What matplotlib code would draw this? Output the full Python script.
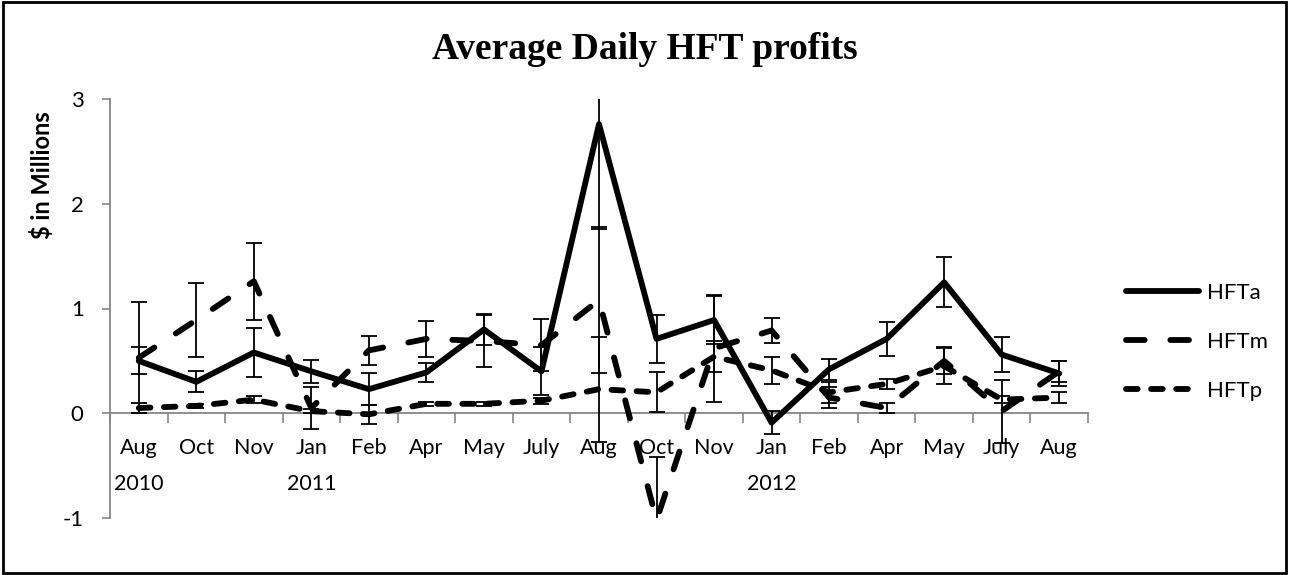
import matplotlib
matplotlib.use("Agg")
import matplotlib.pyplot as plt
from matplotlib.patches import Rectangle
import numpy as np

# data ($ millions)
months = ['Aug', 'Oct', 'Nov', 'Jan', 'Feb', 'Apr', 'May', 'July',
          'Aug', 'Oct', 'Nov', 'Jan', 'Feb', 'Apr', 'May', 'July', 'Aug']
years = ['2010', '', '', '2011', '', '', '', '',
         '', '', '', '2012', '', '', '', '', '']

hfta = [0.50, 0.30, 0.58, 0.40, 0.23, 0.39, 0.80, 0.40, 2.76,
        0.71, 0.89, -0.09, 0.42, 0.71, 1.25, 0.56, 0.38]
hfta_err = [0.13, 0.10, 0.23, 0.11, 0.15, 0.09, 0.15, 0.23, 1.00,
            0.23, 0.23, 0.11, 0.10, 0.16, 0.24, 0.17, 0.12]

hftm = [0.53, 0.89, 1.26, 0.05, 0.60, 0.71, 0.69, 0.65, 1.08,
        -1.02, 0.62, 0.79, 0.15, 0.05, 0.50, 0.02, 0.40]
hftm_err = [0.53, 0.35, 0.37, 0.20, 0.14, 0.17, 0.25, 0.25, 0.70,
            0.60, 0.51, 0.12, 0.10, 0.05, 0.13, 0.30, 0.10]

hftp = [0.05, 0.07, 0.13, 0.02, -0.01, 0.09, 0.09, 0.12, 0.23,
        0.20, 0.54, 0.41, 0.20, 0.28, 0.45, 0.13, 0.15]
hftp_err = [0.05, 0.02, 0.03, 0.02, 0.09, 0.02, 0.02, 0.03, 0.50,
            0.19, 0.15, 0.13, 0.10, 0.05, 0.17, 0.03, 0.05]

grey = '#868686'
plt.rcParams['font.family'] = ['Lato', 'DejaVu Sans']

fig = plt.figure(figsize=(12.89, 5.75), dpi=100)
ax = fig.add_axes([110 / 1289, 57 / 575, 978 / 1289, 419 / 575])

x = np.arange(len(months))
lw = 4.2
ax.plot(x, hfta, color='black', lw=lw, solid_capstyle='round', zorder=3, label='HFTa')
ax.plot(x, hftm, color='black', lw=lw, linestyle=(0, (3.2, 4.4)),
        dash_capstyle='round', zorder=3, label='HFTm')
ax.plot(x, hftp, color='black', lw=lw, linestyle=(0, (2.0, 2.3)),
        dash_capstyle='round', zorder=3, label='HFTp')

for vals, errs in [(hfta, hfta_err), (hftm, hftm_err), (hftp, hftp_err)]:
    ax.errorbar(x, vals, yerr=errs, fmt='none', ecolor='black',
                elinewidth=1.3, capsize=5.5, capthick=1.3, zorder=4)

ax.set_xlim(-0.5, len(months) - 0.5)
ax.set_ylim(-1, 3)
ax.set_yticks([-1, 0, 1, 2, 3])
ax.set_yticklabels(['-1', '0', '1', '2', '3'])

ax.set_xticks(x)
ax.set_xticklabels(months, va='top')
ax.set_xticks(np.arange(-0.5, len(months)), minor=True)
ax.tick_params(axis='x', which='major', length=0, pad=18, labelsize=15.5)
ax.tick_params(axis='x', which='minor', length=7, width=1.2, color=grey, direction='out')
ax.tick_params(axis='y', length=6, width=1.2, color=grey, labelsize=16, pad=13)

# year on a second line under the month
for i, yr in enumerate(years):
    if yr:
        ax.annotate(yr, xy=(i, 0), xycoords=('data', 'data'), xytext=(0, -44),
                    textcoords='offset points', ha='center', va='top', fontsize=15.5)

for s in ['top', 'right']:
    ax.spines[s].set_visible(False)
ax.spines['bottom'].set_position(('data', 0))
ax.spines['bottom'].set_color(grey)
ax.spines['left'].set_color(grey)
ax.spines['bottom'].set_linewidth(1.3)
ax.spines['left'].set_linewidth(1.3)
ax.patch.set_visible(False)

fig.text(0.5, 1 - 59 / 575, 'Average Daily HFT profits', ha='center', va='baseline',
         fontsize=27, fontweight='bold', family='Liberation Serif')
fig.text(42 / 1289, 1 - 175 / 575, '$ in Millions', rotation=90, ha='center',
         va='center', fontsize=17, fontweight='bold')

fig.legend(loc='center left', bbox_to_anchor=(1126 / 1289, 1 - 342 / 575),
           frameon=False, fontsize=16, handlelength=3.3, handletextpad=0.35,
           labelspacing=1.3, borderpad=0, borderaxespad=0)

fig.patches.append(Rectangle((0.002, 0.003), 0.996, 0.994, transform=fig.transFigure,
                             fill=False, edgecolor='black', linewidth=2))

fig.savefig('out.png', dpi=100)
